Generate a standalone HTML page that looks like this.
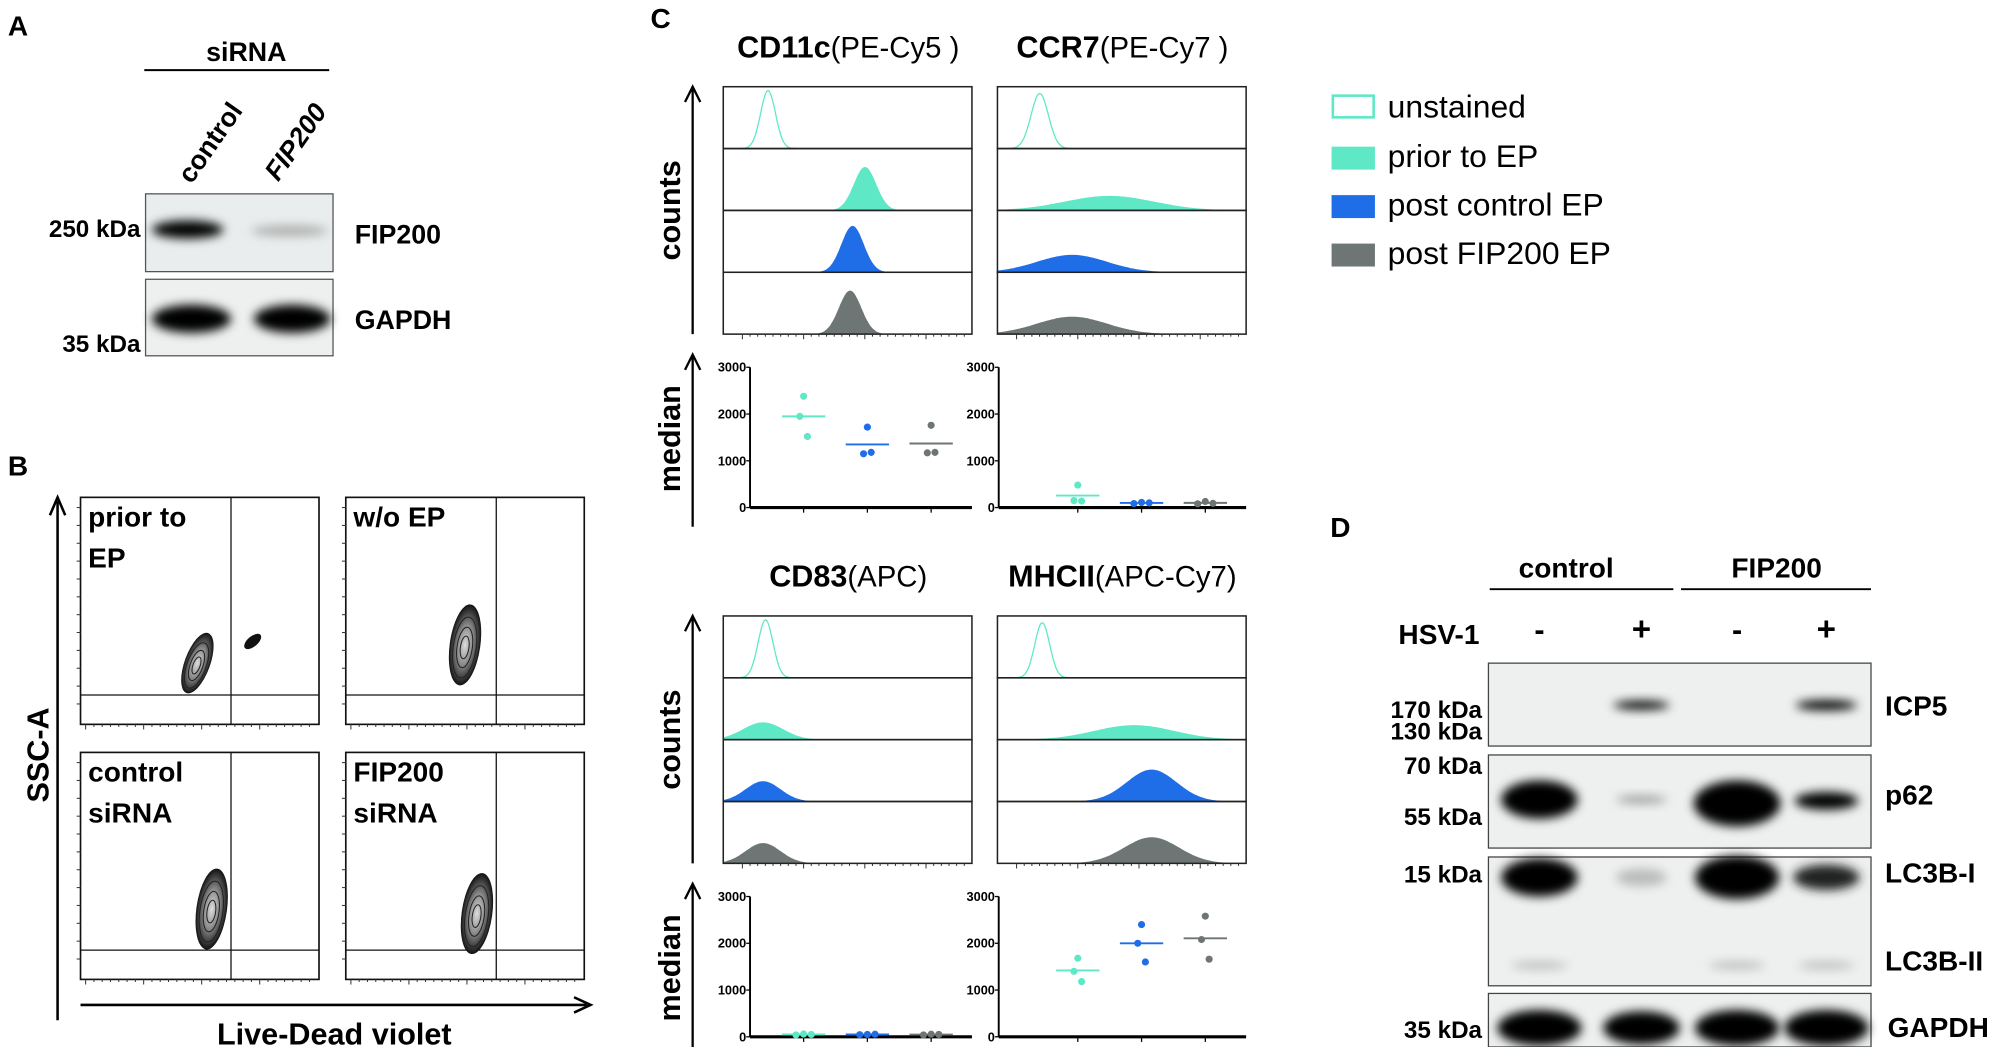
<!DOCTYPE html>
<html><head><meta charset="utf-8"><style>
html,body{margin:0;padding:0;background:#fff;width:2000px;height:1047px;overflow:hidden}
svg{display:block}
.n{font-family:"Liberation Sans Narrow","Liberation Sans",sans-serif;font-weight:bold}
.s{font-family:"Liberation Sans","DejaVu Sans",sans-serif}
</style></head><body>
<svg id="fig" width="2000" height="1047" viewBox="0 0 1568 821" xmlns="http://www.w3.org/2000/svg">
<defs>
<filter id="blur" x="-50%" y="-100%" width="200%" height="300%"><feGaussianBlur stdDeviation="4"/></filter>
<filter id="blur2" x="-50%" y="-100%" width="200%" height="300%"><feGaussianBlur stdDeviation="8"/></filter>
<radialGradient id="cg"><stop offset="0" stop-color="#ddd"/><stop offset="0.5" stop-color="#888"/><stop offset="1" stop-color="#111"/></radialGradient>
</defs>

<!-- Panel A -->
<g>
<text class="n" x="6" y="28" font-size="22">A</text>
<text class="n" x="193" y="48" font-size="21" text-anchor="middle">siRNA</text>
<line x1="113" y1="55" x2="258" y2="55" stroke="#000" stroke-width="1.5"/>
<text class="n" font-size="21" transform="translate(150,145) rotate(-55)">control</text>
<text class="n" font-size="21" font-style="italic" transform="translate(218,143) rotate(-55)">FIP200</text>
<rect x="114" y="152" width="147" height="61" fill="#e9eded" stroke="#555"/>
<ellipse cx="147" cy="180" rx="28" ry="7" fill="#000" filter="url(#blur)"/>
<ellipse cx="227" cy="181" rx="30" ry="4" fill="#aaa" filter="url(#blur)"/>
<rect x="114" y="219" width="147" height="60" fill="#eef0f0" stroke="#555"/>
<ellipse cx="150" cy="250" rx="31" ry="11" fill="#000" filter="url(#blur)"/>
<ellipse cx="229" cy="250" rx="30" ry="11" fill="#000" filter="url(#blur)"/>
<text class="n" x="110" y="186" font-size="19" text-anchor="end">250 kDa</text>
<text class="n" x="110" y="276" font-size="19" text-anchor="end">35 kDa</text>
<text class="n" x="278" y="191" font-size="21">FIP200</text>
<text class="n" x="278" y="258" font-size="21">GAPDH</text>
</g>

<!-- Panel B -->
<g id="panelB">
<text class="n" x="6" y="373" font-size="22">B</text>
<line x1="45" y1="800" x2="45" y2="393" stroke="#000" stroke-width="2"/>
<path d="M39,404 L45,390 L51,404" fill="none" stroke="#000" stroke-width="2"/>
<text class="s" font-weight="bold" font-size="24" text-anchor="middle" transform="translate(38,592) rotate(-90)">SSC-A</text>
<line x1="63" y1="788" x2="460" y2="788" stroke="#000" stroke-width="2"/>
<path d="M450,782 L463,788 L450,794" fill="none" stroke="#000" stroke-width="2"/>
<text class="s" font-weight="bold" font-size="24" text-anchor="middle" x="262" y="819">Live-Dead violet</text>
</g>

<!-- Panel C -->
<g id="panelC">
<text class="n" x="510" y="22" font-size="22">C</text>
</g>

<!-- Legend -->
<g>
<rect x="1045" y="75" width="32" height="17" fill="#fff" stroke="#5ee8c6" stroke-width="2"/>
<text class="s" x="1088" y="92" font-size="25">unstained</text>
<rect x="1044" y="115" width="34" height="18" fill="#5ee8c6"/>
<text class="s" x="1088" y="131" font-size="25">prior to EP</text>
<rect x="1044" y="153" width="34" height="18" fill="#1f6ee8"/>
<text class="s" x="1088" y="169" font-size="25">post control EP</text>
<rect x="1044" y="191" width="34" height="18" fill="#6e7575"/>
<text class="s" x="1088" y="207" font-size="25">post FIP200 EP</text>
</g>

<!-- Panel D -->
<g>
<text class="n" x="1043" y="421" font-size="22">D</text>
<text class="n" x="1228" y="453" font-size="22" text-anchor="middle">control</text>
<line x1="1168" y1="462" x2="1312" y2="462" stroke="#000" stroke-width="1.5"/>
<text class="n" x="1393" y="453" font-size="22" text-anchor="middle">FIP200</text>
<line x1="1318" y1="462" x2="1467" y2="462" stroke="#000" stroke-width="1.5"/>
<text class="n" x="1160" y="505" font-size="22" text-anchor="end">HSV-1</text>
<text class="n" x="1207" y="502" font-size="24" text-anchor="middle">-</text>
<text class="n" x="1287" y="502" font-size="26" text-anchor="middle">+</text>
<text class="n" x="1362" y="502" font-size="24" text-anchor="middle">-</text>
<text class="n" x="1432" y="502" font-size="26" text-anchor="middle">+</text>
<rect x="1167" y="520" width="300" height="65" fill="#eef0f0" stroke="#444"/>
<ellipse cx="1287" cy="553" rx="22" ry="3.5" fill="#000" filter="url(#blur)"/>
<ellipse cx="1432" cy="553" rx="24" ry="4" fill="#000" filter="url(#blur)"/>
<rect x="1167" y="592" width="300" height="73" fill="#eef0f0" stroke="#444"/>
<ellipse cx="1207" cy="627" rx="30" ry="15" fill="#000" filter="url(#blur)"/>
<ellipse cx="1287" cy="627" rx="20" ry="3" fill="#999" filter="url(#blur)"/>
<ellipse cx="1362" cy="630" rx="34" ry="18" fill="#000" filter="url(#blur)"/>
<ellipse cx="1432" cy="628" rx="25" ry="7" fill="#000" filter="url(#blur)"/>
<rect x="1167" y="672" width="300" height="101" fill="#eef0f0" stroke="#444"/>
<ellipse cx="1207" cy="688" rx="30" ry="15" fill="#000" filter="url(#blur)"/>
<ellipse cx="1287" cy="688" rx="20" ry="7" fill="#bbb" filter="url(#blur)"/>
<ellipse cx="1362" cy="688" rx="33" ry="17" fill="#000" filter="url(#blur)"/>
<ellipse cx="1432" cy="688" rx="26" ry="10" fill="#222" filter="url(#blur)"/>
<ellipse cx="1207" cy="757" rx="22" ry="3" fill="#bbb" filter="url(#blur)"/>
<ellipse cx="1362" cy="757" rx="22" ry="3" fill="#bbb" filter="url(#blur)"/>
<ellipse cx="1432" cy="757" rx="22" ry="3" fill="#bbb" filter="url(#blur)"/>
<rect x="1167" y="779" width="300" height="42" fill="#eef0f0" stroke="#444"/>
<ellipse cx="1207" cy="806" rx="33" ry="14" fill="#000" filter="url(#blur)"/>
<ellipse cx="1287" cy="806" rx="30" ry="13" fill="#000" filter="url(#blur)"/>
<ellipse cx="1362" cy="806" rx="33" ry="14" fill="#000" filter="url(#blur)"/>
<ellipse cx="1432" cy="806" rx="33" ry="14" fill="#000" filter="url(#blur)"/>
<g class="n" font-size="19" text-anchor="end">
<text x="1162" y="563">170 kDa</text><text x="1162" y="580">130 kDa</text>
<text x="1162" y="607">70 kDa</text><text x="1162" y="647">55 kDa</text>
<text x="1162" y="692">15 kDa</text><text x="1162" y="814">35 kDa</text>
</g>
<g class="n" font-size="22">
<text x="1478" y="561">ICP5</text><text x="1478" y="631">p62</text>
<text x="1478" y="692">LC3B-I</text><text x="1478" y="761">LC3B-II</text>
<text x="1480" y="813">GAPDH</text>
</g>
</g>

<script>
// ---------- Data ----------
const markers = ["CD11c", "CCR7", "CD83", "MHCII"];
const fluors = ["(PE-Cy5 )", "(PE-Cy7 )", "(APC)", "(APC-Cy7)"];
const groups = ["prior to EP", "post control EP", "post FIP200 EP"];
const groupColors = ["#5ee8c6", "#1f6ee8", "#6e7575"];
const medianTicks = [0, 1000, 2000, 3000];
// replicate medians per marker, per group
const medCD11c = [[2380, 1950, 1520], [1720, 1150, 1180], [1760, 1170, 1180]];
const medCCR7 = [[480, 150, 140], [110, 85, 100], [130, 80, 90]];
const medCD83 = [[60, 40, 50], [50, 45, 55], [55, 40, 50]];
const medMHCII = [[1680, 1400, 1180], [2400, 2000, 1600], [2580, 2080, 1660]];
const medians = [medCD11c, medCCR7, medCD83, medMHCII];
// histogram peaks: [centre (0-1 of log axis), spread, relative height] for unstained, prior, control, FIP200
const histCD11c = [[0.18, 0.03, 1.0], [0.57, 0.045, 0.75], [0.52, 0.045, 0.8], [0.51, 0.045, 0.75]];
const histCCR7 = [[0.17, 0.035, 0.95], [0.45, 0.18, 0.25], [0.3, 0.14, 0.3], [0.3, 0.14, 0.3]];
const histCD83 = [[0.17, 0.03, 1.0], [0.16, 0.08, 0.3], [0.16, 0.07, 0.35], [0.16, 0.07, 0.35]];
const histMHCII = [[0.18, 0.03, 0.95], [0.55, 0.16, 0.25], [0.62, 0.1, 0.55], [0.62, 0.11, 0.45]];
const hists = [histCD11c, histCCR7, histCD83, histMHCII];
// flow gates panel B
const bTitles = [["prior to", "EP"], ["w/o EP", ""], ["control", "siRNA"], ["FIP200", "siRNA"]];
// population centre (fraction of plot) and size
const bPopX = [0.49, 0.5, 0.55, 0.55];
const bPopY = [0.27, 0.35, 0.31, 0.29];

const NS = "http://www.w3.org/2000/svg";
function mk(tag, attrs, parent) {
  const e = document.createElementNS(NS, tag);
  for (const k in attrs) e.setAttribute(k, attrs[k]);
  parent.appendChild(e);
  return e;
}
const C = document.getElementById("panelC");
const B = document.getElementById("panelB");

// ---------- Panel C ----------
const colX = [567, 782];
const rowY = [68, 483];
const histW = 195, histRowH = 48.5;
const titleY = [45, 460];
const titleCX = [665, 880];
for (let m = 0; m < 4; m++) {
  const cx = colX[m % 2], top = rowY[Math.floor(m / 2)];
  const t = mk("text", {x: titleCX[m % 2], y: titleY[Math.floor(m / 2)], "font-size": 24, "text-anchor": "middle", class: "s"}, C);
  
  
  const b1 = mk("tspan", {"font-weight": "bold"}, t); b1.textContent = markers[m];
  const b2 = mk("tspan", {"font-size": 23}, t); b2.textContent = fluors[m];
  const hg = mk("g", {}, C);
  
  
  for (let r = 0; r < 4; r++) {
    const y0 = top + r * histRowH, base = y0 + histRowH;
    const [mu, sd, h] = hists[m][r];
    let d = "M" + cx + "," + base;
    for (let i = 0; i <= 200; i++) {
      const f = i / 200;
      const v = h * Math.exp(-0.5 * ((f - mu) / sd) ** 2);
      d += " L" + (cx + f * histW).toFixed(1) + "," + (base - v * (histRowH - 3)).toFixed(1);
    }
    d += " L" + (cx + histW) + "," + base + " Z";
    const p = mk("path", {d: d, fill: r === 0 ? "none" : groupColors[r - 1], stroke: r === 0 ? "#5ee8c6" : "none", "stroke-width": 1}, hg);
    
    
    mk("rect", {x: cx, y: y0, width: histW, height: histRowH, fill: "none", stroke: "#222", "stroke-width": 1.2}, hg);
  }
  // x ticks
  for (let i = 0; i < 30; i++) mk("line", {x1: cx + 15 + i * 6, y1: top + 4 * histRowH, x2: cx + 15 + i * 6, y2: top + 4 * histRowH + (i % 8 === 0 ? 4 : 2), stroke: "#333", "stroke-width": 0.8}, hg);

  // median plot
  const ax = cx + (m % 2 === 0 ? 21 : 1), ay0 = top + 220, ay1 = top + 330, axR = cx + histW;
  const yS = v => ay1 - (v / 3000) * (ay1 - ay0);
  const mg = mk("g", {}, C);
  
  
  mk("line", {x1: ax, y1: ay0, x2: ax, y2: ay1, stroke: "#000", "stroke-width": 1.5}, mg);
  mk("line", {x1: ax, y1: ay1, x2: axR, y2: ay1, stroke: "#000", "stroke-width": 2.5}, mg);
  medianTicks.forEach(tv => {
    mk("line", {x1: ax - 3, y1: yS(tv), x2: ax, y2: yS(tv), stroke: "#000"}, mg);
    const tt = mk("text", {x: ax - 3, y: yS(tv) + 3.5, "font-size": 10, "text-anchor": "end", class: "n"}, mg);
    
    
    tt.textContent = tv;
  });
  for (let g = 0; g < 3; g++) {
    const gx = cx + 63 + g * 50;
    mk("line", {x1: gx, y1: ay1, x2: gx, y2: ay1 + 4, stroke: "#000"}, mg);
    const vals = medians[m][g];
    const mean = vals.reduce((a, b) => a + b, 0) / vals.length;
    const ml = mk("line", {x1: gx - 17, y1: yS(mean), x2: gx + 17, y2: yS(mean), stroke: groupColors[g], "stroke-width": 1.5}, mg);
    
    
    const offs = [0, -3, 3];
    vals.forEach((v, k) => {
      const c = mk("circle", {cx: gx + (Math.abs(vals[0]-v)<150 && k>0 ? offs[k] : 0) + (k===1? -3: k===2? 3:0), cy: yS(v), r: 2.8, fill: groupColors[g]}, mg);
      
      
    });
  }
  // left y-axis arrows and labels for left column
  if (m % 2 === 0) {
    mk("line", {x1: 543, y1: top + 194, x2: 543, y2: top + 2, stroke: "#000", "stroke-width": 1.8}, C);
    mk("path", {d: `M537,${top + 12} L543,${top} L549,${top + 12}`, fill: "none", stroke: "#000", "stroke-width": 1.8}, C);
    const ct = mk("text", {class: "s", "font-weight": "bold", "font-size": 24, "text-anchor": "middle", transform: `translate(533,${top + 97}) rotate(-90)`}, C);
    
    
    ct.textContent = "counts";
    mk("line", {x1: 543, y1: top + 345, x2: 543, y2: top + 212, stroke: "#000", "stroke-width": 1.8}, C);
    mk("path", {d: `M537,${top + 222} L543,${top + 210} L549,${top + 222}`, fill: "none", stroke: "#000", "stroke-width": 1.8}, C);
    const mt = mk("text", {class: "s", "font-weight": "bold", "font-size": 24, "text-anchor": "middle", transform: `translate(533,${top + 276}) rotate(-90)`}, C);
    
    
    mt.textContent = "median";
  }
}

// ---------- Panel B ----------
const bx = [63, 271], by = [390, 590], bw = 187, bh = 178;
for (let i = 0; i < 4; i++) {
  const x0 = bx[i % 2], y0 = by[Math.floor(i / 2)];
  const g = mk("g", {}, B);
  
  
  mk("rect", {x: x0, y: y0, width: bw, height: bh, fill: "#fff", stroke: "#111", "stroke-width": 1.3}, g);
  mk("line", {x1: x0 + 118, y1: y0, x2: x0 + 118, y2: y0 + bh, stroke: "#111", "stroke-width": 1}, g);
  mk("line", {x1: x0, y1: y0 + bh - 23, x2: x0 + bw, y2: y0 + bh - 23, stroke: "#111", "stroke-width": 1}, g);
  for (let k = 0; k < 12; k++) mk("line", {x1: x0 - 3, y1: y0 + 8 + k * 14, x2: x0, y2: y0 + 8 + k * 14, stroke: "#333", "stroke-width": 0.8}, g);
  for (let k = 0; k < 28; k++) mk("line", {x1: x0 + 4 + k * 6.5, y1: y0 + bh, x2: x0 + 4 + k * 6.5, y2: y0 + bh + (k % 7 === 0 ? 4 : 2), stroke: "#333", "stroke-width": 0.8}, g);
  const px = x0 + bPopX[i] * bw, py = y0 + bh - bPopY[i] * bh;
  const rot = i === 0 ? 20 : 8;
  const pop = mk("g", {transform: `translate(${px},${py}) rotate(${rot})`}, g);
  
  
  const rx = i === 0 ? 10 : 12, ry = i === 0 ? 25 : 32;
  mk("ellipse", {cx: 0, cy: 0, rx: rx, ry: ry, fill: "url(#cg)"}, pop);
  [0.75, 0.5, 0.28].forEach(f => mk("ellipse", {cx: 0, cy: 2, rx: rx * f, ry: ry * f, fill: "none", stroke: "#222", "stroke-width": 0.8}, pop));
  if (i === 0) {
    mk("ellipse", {cx: x0 + 135, cy: y0 + 113, rx: 8, ry: 4, fill: "#111", transform: `rotate(-40 ${x0 + 135} ${y0 + 113})`}, g);
  }
  const tl = mk("text", {x: x0 + 6, y: y0 + 23, "font-size": 22, "font-weight": "bold", class: "s"}, g);
  
  
  tl.textContent = bTitles[i][0];
  if (bTitles[i][1]) {
    const t2 = mk("text", {x: x0 + 6, y: y0 + 55, "font-size": 22, "font-weight": "bold", class: "s"}, g);
    
    
    t2.textContent = bTitles[i][1];
  }
}
</script>
</svg>
</body></html>
